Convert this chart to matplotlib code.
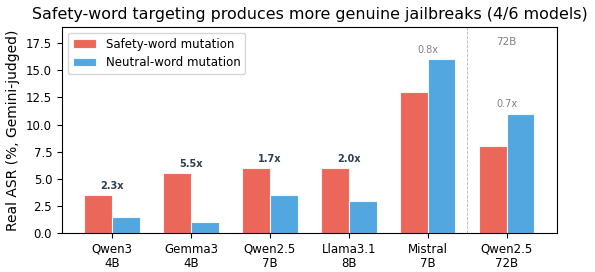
import matplotlib.pyplot as plt
import numpy as np

models = ['Qwen3\n4B', 'Gemma3\n4B', 'Qwen2.5\n7B', 'Llama3.1\n8B', 'Mistral\n7B', 'Qwen2.5\n72B']
safety = [3.5, 5.5, 6.0, 6.0, 13.0, 8.0]
neutral = [1.5, 1.0, 3.5, 3.0, 16.0, 11.0]
ratios = ['2.3x', '5.5x', '1.7x', '2.0x', '0.8x', '0.7x']

fig = plt.figure(figsize=(5.95, 2.72), dpi=100)
ax = fig.add_axes([0.104, 0.143, 0.832, 0.758])

x = np.arange(len(models))
w = 0.35
ax.bar(x - w/2, safety, w, color='#e74c3c', alpha=0.85, edgecolor='white', linewidth=0.8,
       label='Safety-word mutation')
ax.bar(x + w/2, neutral, w, color='#3498db', alpha=0.85, edgecolor='white', linewidth=0.8,
       label='Neutral-word mutation')

for i, r in enumerate(ratios):
    top = max(safety[i], neutral[i])
    win = safety[i] > neutral[i]
    ax.text(x[i], top + 0.4, r, ha='center', va='bottom', fontsize=7,
            fontweight='bold' if win else 'normal',
            color='#2c3e50' if win else 'gray')

ax.axvline(4.5, color='gray', linestyle='--', linewidth=0.6, alpha=0.6)
ax.text(5, 17.6, '72B', ha='center', va='center', fontsize=7.5, color='gray')

ax.set_xticks(x)
ax.set_xticklabels(models, fontsize=8.5, linespacing=1.1)
ax.tick_params(axis='y', labelsize=8.5)
ax.set_ylim(0, 19)
ax.set_ylabel('Real ASR (%, Gemini-judged)', fontsize=10)
ax.set_title('Safety-word targeting produces more genuine jailbreaks (4/6 models)', fontsize=11.4)
ax.legend(loc='upper left', fontsize=8.5)

fig.savefig('out.png', dpi=100)
